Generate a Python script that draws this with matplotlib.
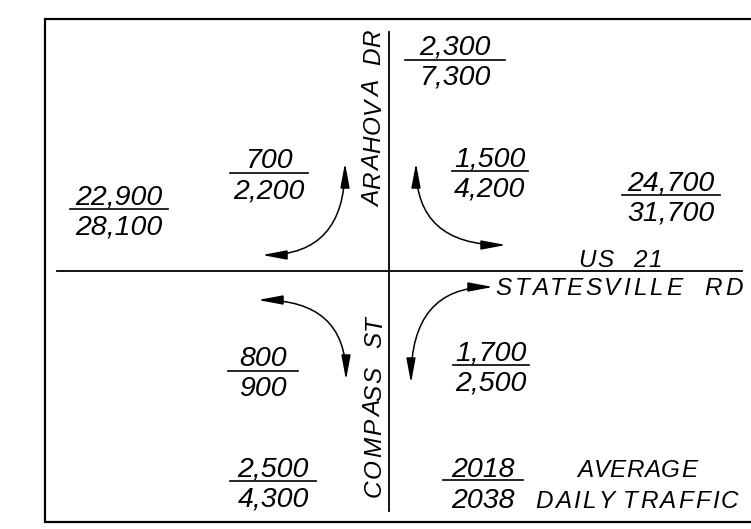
import matplotlib.pyplot as plt
from matplotlib.patches import FancyArrowPatch

# Traffic volumes: 2018 ADT over 2038 ADT
labels_2018 = ['22,900', '700', '2,300', '1,500', '24,700', '800', '2,500', '1,700']
labels_2038 = ['28,100', '2,200', '7,300', '4,200', '31,700', '900', '4,300', '2,500']

# Layout (pixel coords): centre x, fraction bar y, bar half width
frac_x = [119, 269, 455, 490, 671, 263, 273, 491]
frac_y = [209, 173, 60, 171, 195, 371, 481, 365]
frac_w = [49, 39, 50, 38, 49, 35, 43, 38]

# Street / legend labels: text, centre x, baseline y, rotation, letter spacing (px)
names = ['US  21', 'STATESVILLE  RD', 'ARAHOVA  DR', 'COMPASS  ST', 'AVERAGE', 'DAILY TRAFFIC']
name_x = [620, 619, 380, 381, 637, 637]
name_y = [267, 295, 118, 406, 477, 508]
name_rot = [0, 0, 90, 90, 0, 0]
name_track = [2.0, 3.0, 1.3, 1.8, 0.7, 2.2]

# Turning-movement arrows: end A, end B, tangent angles
arrows = [
    ((262, 255), (345, 163), 0, 90),
    ((416, 163), (506, 245), 90, 0),
    ((258, 300), (346, 380), 0, 90),
    ((493, 287), (411, 383), 0, 90),
]

font = dict(family=['Liberation Sans', 'DejaVu Sans'], style='italic', color='black')
num_size = 20.5
road_size = 17.5

fig = plt.figure(figsize=(7.51, 5.29), dpi=100)
ax = fig.add_axes([0, 0, 1, 1])
ax.set_xlim(0, 751)
ax.set_ylim(529, 0)
ax.axis('off')
renderer = fig.canvas.get_renderer()


def text_width(s, size):
    # advance width of s, measured with a trailing bar so spaces count
    t = ax.text(0, 0, s + '|', fontsize=size, **font)
    w = t.get_window_extent(renderer).width
    t.remove()
    return w


def tracked_text(s, x, y, rot, track, size):
    # CAD-style lettering: place each char with extra spacing
    base = text_width('', size)
    offs = [text_width(s[:i], size) - base + track * i for i in range(len(s))]
    total = text_width(s, size) - base + track * (len(s) - 1)
    for ch, o in zip(s, offs):
        if ch == ' ':
            continue
        if rot == 0:
            ax.text(x - total / 2 + o, y, ch, ha='left', va='baseline', fontsize=size, **font)
        else:
            ax.text(x, y + total / 2 - o, ch, ha='left', va='baseline', rotation=90,
                    rotation_mode='anchor', fontsize=size, **font)


# outer frame (right edge runs off the picture)
ax.plot([760, 45, 45, 760], [19, 19, 522, 522], color='black', lw=1.6, solid_joinstyle='miter')

# roads
ax.plot([389, 389], [32, 511], color='black', lw=1.3)
ax.plot([57, 742], [271, 271], color='black', lw=1.3)

# volume fractions
for top, bot, x, y, w in zip(labels_2018, labels_2038, frac_x, frac_y, frac_w):
    ax.plot([x - w, x + w], [y, y], color='black', lw=1.2)
    ax.text(x, y - 5, top, ha='center', va='baseline', fontsize=num_size, **font)
    ax.text(x, y + 25, bot, ha='center', va='baseline', fontsize=num_size, **font)

# legend fraction
ax.plot([443, 523], [480, 480], color='black', lw=1.2)
ax.text(483, 477, '2018', ha='center', va='baseline', fontsize=num_size, **font)
ax.text(483, 508, '2038', ha='center', va='baseline', fontsize=num_size, **font)

# road names and legend words
for s, x, y, rot, tr in zip(names, name_x, name_y, name_rot, name_track):
    tracked_text(s, x, y, rot, tr, road_size)

for a, b, angA, angB in arrows:
    arr = FancyArrowPatch(a, b, arrowstyle='<|-|>,head_length=1.5,head_width=0.28',
                          connectionstyle=f'angle3,angleA={angA},angleB={angB}',
                          mutation_scale=10, shrinkA=0, shrinkB=0,
                          color='black', lw=1.1)
    ax.add_patch(arr)

fig.savefig('out.png', dpi=100)
